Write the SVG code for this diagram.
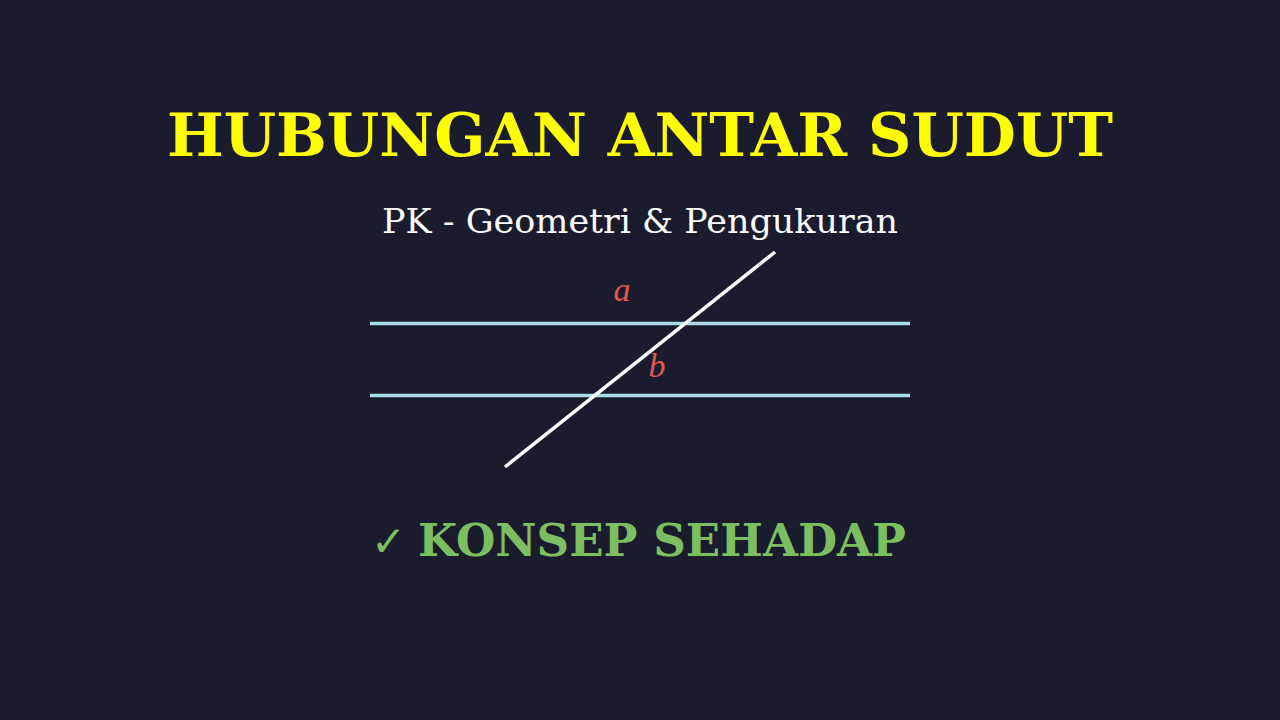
<svg xmlns="http://www.w3.org/2000/svg" width="1280" height="720" viewBox="0 0 1280 720">
<style>
.title{font-family:"DejaVu Serif",serif;font-weight:bold;font-size:60px;fill:#ffff00}
.sub{font-family:"DejaVu Serif",serif;font-size:34px;fill:#ffffff}
.lbl{font-family:"Liberation Serif",serif;font-style:italic;font-size:34px;fill:#e0594e}
.par{stroke:#a8dcea;stroke-width:3.5}
.tr{stroke:#ffffff;stroke-width:3.5}
.ok{font-family:"DejaVu Serif",serif;font-weight:bold;font-size:44px;fill:#7cbf60}
.chk{font-family:"DejaVu Sans",sans-serif;font-size:42px;fill:#7cbf60}
</style>
<rect width="1280" height="720" fill="#1b1b2e"/>
<g id="title"><text class="title" x="640" y="156" text-anchor="middle" textLength="946" lengthAdjust="spacingAndGlyphs">HUBUNGAN ANTAR SUDUT</text></g>
<g id="subtitle"><text class="sub" x="640" y="233" text-anchor="middle" textLength="516" lengthAdjust="spacingAndGlyphs">PK - Geometri &amp; Pengukuran</text></g>
<g id="connectors">
<line id="line1" class="par" x1="370" y1="323.5" x2="910" y2="323.5"/>
<line id="line2" class="par" x1="370" y1="395.5" x2="910" y2="395.5"/>
<line id="transversal" class="tr" x1="775" y1="252" x2="505" y2="467"/>
</g>
<g id="label-a"><text class="lbl" x="622" y="301" text-anchor="middle">a</text></g>
<g id="label-b"><text class="lbl" x="657" y="377" text-anchor="middle">b</text></g>
<g id="concept"><text x="371" y="556"><tspan class="chk">✓</tspan></text><text class="ok" x="418" y="556" textLength="488" lengthAdjust="spacingAndGlyphs">KONSEP SEHADAP</text></g>
</svg>
